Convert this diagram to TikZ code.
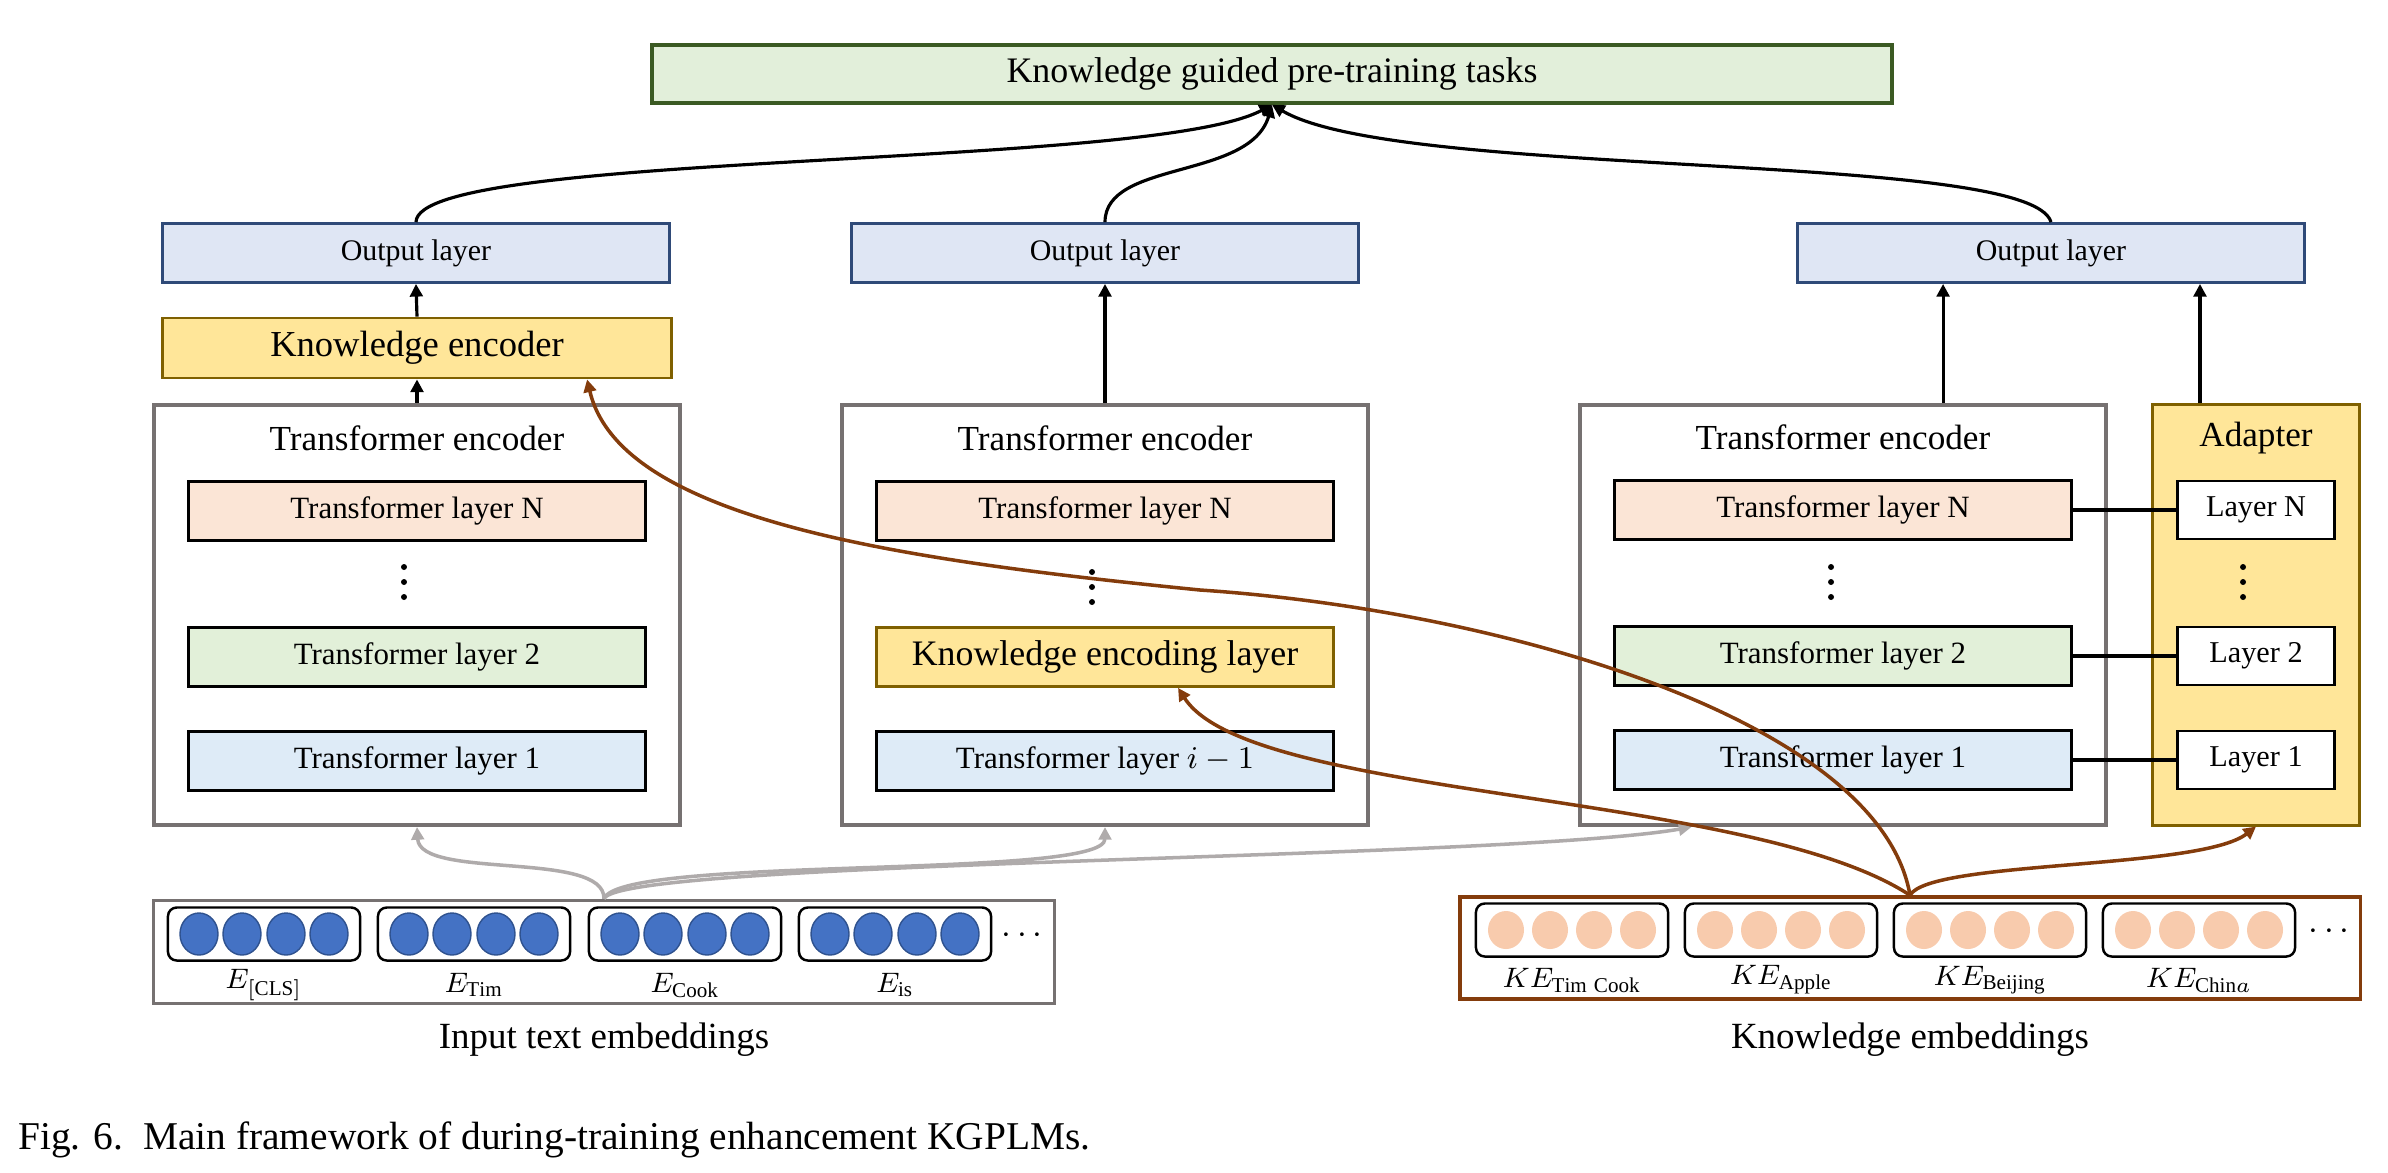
\documentclass[tikz,border=0pt]{standalone}
\usepackage{fontspec}
\setmainfont{Liberation Serif}
\usepackage{xcolor}
\usetikzlibrary{arrows.meta,shapes.geometric}

\definecolor{taskgreen}{HTML}{E2EFDA}
\definecolor{taskborder}{HTML}{3B5A23}
\definecolor{outblue}{HTML}{DFE6F4}
\definecolor{outborder}{HTML}{2F4A78}
\definecolor{kyellow}{HTML}{FFE699}
\definecolor{kborder}{HTML}{7F6000}
\definecolor{layertop}{HTML}{FBE5D6}
\definecolor{layertwo}{HTML}{E2F0D9}
\definecolor{layerone}{HTML}{DEEBF7}
\definecolor{encgray}{HTML}{767171}
\definecolor{arrowgray}{HTML}{AFABAB}
\definecolor{kbrown}{HTML}{843C0C}
\definecolor{tokblue}{HTML}{4472C4}
\definecolor{tokblueborder}{HTML}{2F528F}
\definecolor{tokpeach}{HTML}{F8CBAD}

\begin{document}
\begin{tikzpicture}[x=0.01cm, y=-0.01cm,
	box/.style={draw, inner sep=0pt, line width=0.8pt},
	taskbox/.style={box, fill=taskgreen, draw=taskborder, line width=1pt, minimum width=12.39cm, minimum height=0.58cm, font=\fontsize{10.2}{12}\selectfont},
	outbox/.style={box, fill=outblue, draw=outborder, minimum width=5.07cm, minimum height=0.59cm, font=\fontsize{8.5}{10}\selectfont},
	kencbox/.style={box, fill=kyellow, draw=kborder, minimum width=5.08cm, minimum height=0.6cm, font=\fontsize{10.4}{12}\selectfont},
	encbox/.style={draw=encgray, line width=1.1pt, minimum width=5.25cm, minimum height=4.2cm, inner sep=0pt},
	enctitle/.style={font=\fontsize{10}{12}\selectfont},
	tlayer/.style={box, minimum width=4.56cm, minimum height=0.59cm, font=\fontsize{8.8}{10}\selectfont},
	alayer/.style={box, fill=white, minimum width=1.57cm, minimum height=0.58cm, font=\fontsize{8.6}{10}\selectfont},
	embbox/.style={draw, line width=1pt, minimum width=9.0cm, minimum height=1.03cm, inner sep=0pt},
	tokbox/.style={draw, line width=0.7pt, rounded corners=2.5pt, minimum width=1.92cm, minimum height=0.53cm, inner sep=0pt},
	blueball/.style={ellipse, fill=tokblue, draw=tokblueborder, line width=0.4pt, minimum width=0.38cm, minimum height=0.42cm, inner sep=0pt},
	peachball/.style={ellipse, fill=tokpeach, minimum width=0.36cm, minimum height=0.38cm, inner sep=0pt},
	emblabel/.style={font=\fontsize{8}{10}\selectfont},
	embtitle/.style={font=\fontsize{10.5}{12}\selectfont},
	hdots/.style={font=\fontsize{10}{12}\selectfont},
	uparrow/.style={-{Triangle[length=3.6pt,width=3.6pt]}, line width=0.9pt},
	grayarrow/.style={-{Triangle[length=3.6pt,width=3.6pt]}, line width=1pt, draw=arrowgray},
	brownarrow/.style={-{Triangle[length=3.6pt,width=3.6pt]}, line width=1pt, draw=kbrown}
]
	\useasboundingbox (0,0) rectangle (2388,1172);

	\node[taskbox] (task) at (1272,74) {Knowledge guided pre-training tasks};

	% Output layers
	\node[outbox] (o1) at (416,253) {Output layer};
	\node[outbox] (o2) at (1105,253) {Output layer};
	\node[outbox] (o3) at (2051,253) {Output layer};

	\node[kencbox] (ke) at (417,348) {Knowledge encoder};

	% Left transformer encoder
	\node[encbox] (enc1) at (417,615) {};
	\node[enctitle] (enc1title) at (417,438) {Transformer encoder};
	\node[tlayer, fill=layertop] (l1N) at (417,511) {Transformer layer N};
	\node[tlayer, fill=layertwo] (l1B) at (417,657) {Transformer layer 2};
	\node[tlayer, fill=layerone] (l1A) at (417,761) {Transformer layer 1};

	% Middle transformer encoder
	\node[encbox] (enc2) at (1105,615) {};
	\node[enctitle] (enc2title) at (1105,438) {Transformer encoder};
	\node[tlayer, fill=layertop] (l2N) at (1105,511) {Transformer layer N};
	\node[tlayer, fill=kyellow, draw=kborder, font=\fontsize{10.2}{12}\selectfont] (kel) at (1105,657) {Knowledge encoding layer};
	\node[tlayer, fill=layerone] (l2A) at (1105,761) {Transformer layer $i-1$};

	% Right transformer encoder and adapter
	\node[encbox] (enc3) at (1843,615) {};
	\node[enctitle] (enc3title) at (1843,437) {Transformer encoder};
	\node[tlayer, fill=layertop] (l3N) at (1843,510) {Transformer layer N};
	\node[tlayer, fill=layertwo] (l3B) at (1843,656) {Transformer layer 2};
	\node[tlayer, fill=layerone] (l3A) at (1843,760) {Transformer layer 1};

	\node[encbox, fill=kyellow, draw=kborder, line width=0.8pt, minimum width=2.07cm] (ad) at (2256,615) {};
	\node[enctitle] (adtitle) at (2256,438) {Adapter};
	\node[alayer] (aN) at (2256,510) {Layer N};
	\node[alayer] (aB) at (2256,656) {Layer 2};
	\node[alayer] (aA) at (2256,760) {Layer 1};

	% vertical dots between the layers
	\foreach \x/\y in {404/582, 1092/587, 1831/582, 2243/582}
		\foreach \d in {-15,0,15}
			\fill (\x,\y+\d) circle (0.85pt);

	\draw[line width=1.3pt] (l3N.east) -- (aN.west);
	\draw[line width=1.3pt] (l3B.east) -- (aB.west);
	\draw[line width=1.3pt] (l3A.east) -- (aA.west);

	% Input text embeddings
	\node[embbox, draw=encgray] (inemb) at (604,952) {};
	\node[tokbox] (t1) at (264,934) {};
	\node[tokbox] (t2) at (474,934) {};
	\node[tokbox] (t3) at (685,934) {};
	\node[tokbox] (t4) at (895,934) {};
	\foreach \cx in {264,474,685,895}
		\foreach \dx in {-65,-22,22,65}
			\node[blueball] at (\cx+\dx,934) {};
	\node[hdots] (indots) at (1022,936) {$\cdots$};
	\node[emblabel] (e1) at (264,985) {$E_{\mathrm{[CLS]}}$};
	\node[emblabel] (e2) at (474,985) {$E_{\mathrm{Tim}}$};
	\node[emblabel] (e3) at (685,985) {$E_{\mathrm{Cook}}$};
	\node[emblabel] (e4) at (895,985) {$E_{\mathrm{is}}$};
	\node[embtitle] (intitle) at (604,1040) {Input text embeddings};

	% Knowledge embeddings
	\node[embbox, draw=kbrown, minimum height=1.02cm] (kemb) at (1910,948) {};
	\node[tokbox] (k1) at (1572,930) {};
	\node[tokbox] (k2) at (1781,930) {};
	\node[tokbox] (k3) at (1990,930) {};
	\node[tokbox] (k4) at (2199,930) {};
	\foreach \cx in {1572,1781,1990,2199}
		\foreach \dx in {-66,-22,22,66}
			\node[peachball] at (\cx+\dx,930) {};
	\node[hdots] (kdots) at (2329,932) {$\cdots$};
	\node[emblabel] (ke1) at (1572,980) {$KE_{\mathrm{Tim\ Cook}}$};
	\node[emblabel] (ke2) at (1781,980) {$KE_{\mathrm{Apple}}$};
	\node[emblabel] (ke3) at (1990,980) {$KE_{\mathrm{Beijing}}$};
	\node[emblabel] (ke4) at (2199,980) {$KE_{\mathrm{Chin}a}$};
	\node[embtitle] (ktitle) at (1910,1040) {Knowledge embeddings};

	\node[anchor=west, font=\fontsize{11.2}{13}\selectfont] (caption) at (6,1140) {Fig. 6.\ \ Main framework of during-training enhancement KGPLMs.};

	% Upward connections
	\draw[uparrow] (enc1.north) -- (ke.south);
	\draw[uparrow] (ke.north) -- (o1.south);
	\draw[uparrow] (enc2.north) -- (o2.south);
	\draw[uparrow] ([xshift=1cm]enc3.north) -- ([xshift=1cm]enc3.north |- o3.south);
	\draw[uparrow] ([xshift=-0.56cm]ad.north) -- ([xshift=-0.56cm]ad.north |- o3.south);

	% Curves into the pre-training tasks
	\draw[uparrow] (o1.north) .. controls (417,150) and (1150,170) .. (task.south);
	\draw[uparrow] (o2.north) .. controls (1105,160) and (1250,180) .. (task.south);
	\draw[uparrow] (o3.north) .. controls (2030,150) and (1400,180) .. (task.south);

	% Input text embeddings to the encoders
	\draw[grayarrow] (inemb.north) .. controls (605,850) and (420,880) .. (enc1.south);
	\draw[grayarrow] (inemb.north) .. controls (620,855) and (1105,880) .. (enc2.south);
	\draw[grayarrow] (inemb.north) .. controls (620,860) and (1500,860) .. ([xshift=-1.515cm]enc3.south);

	% Knowledge embeddings to the knowledge modules
	\draw[brownarrow] (kemb.north) .. controls (1880,720) and (1500,610) .. (1200,590) .. controls (900,560) and (620,520) .. ([xshift=1.7cm]ke.south);
	\draw[brownarrow] (kemb.north) .. controls (1750,790) and (1250,800) .. ([xshift=0.73cm]kel.south);
	\draw[brownarrow] (kemb.north) .. controls (1930,860) and (2200,870) .. (ad.south);
\end{tikzpicture}
\end{document}
